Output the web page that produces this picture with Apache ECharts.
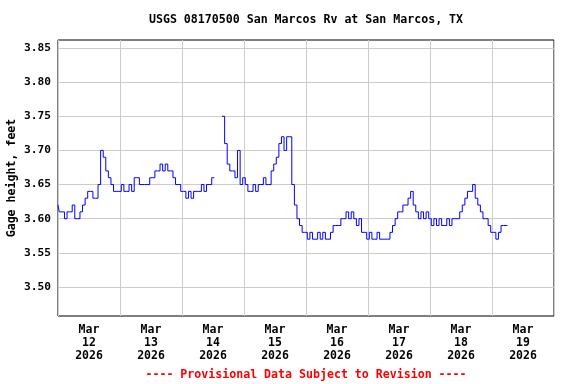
<!DOCTYPE html>
<html>
<head>
<meta charset="utf-8">
<script src="https://cdn.jsdelivr.net/npm/echarts@6/dist/echarts.min.js"></script>
<style>html,body{margin:0;padding:0;background:#fff}#c{width:576px;height:384px}</style>
</head>
<body>
<div id="c"></div>
<script>
// Hourly gage height (feet), starting Mar 12 2026 00:00; null = gap in record
const mar12 = [3.62,3.61,3.61,3.60,3.61,3.61,3.62,3.60,3.60,3.61,3.62,3.63,3.64,3.64,3.63,3.63,3.65,3.70,3.69,3.67,3.66,3.65,3.64,3.64];
const mar13 = [3.64,3.65,3.64,3.64,3.65,3.64,3.66,3.66,3.65,3.65,3.65,3.65,3.66,3.66,3.67,3.67,3.68,3.67,3.68,3.67,3.67,3.66,3.65,3.65];
const mar14 = [3.64,3.64,3.63,3.64,3.63,3.64,3.64,3.64,3.65,3.64,3.65,3.65,3.66,null,null,null,3.75,3.71,3.68,3.67,3.67,3.66,3.70,3.65];
const mar15 = [3.66,3.65,3.64,3.64,3.65,3.64,3.65,3.65,3.66,3.65,3.65,3.67,3.68,3.69,3.71,3.72,3.70,3.72,3.72,3.65,3.62,3.60,3.59,3.58];
const mar16 = [3.58,3.57,3.58,3.57,3.57,3.58,3.57,3.58,3.57,3.57,3.58,3.59,3.59,3.59,3.60,3.60,3.61,3.60,3.61,3.60,3.59,3.60,3.58,3.58];
const mar17 = [3.57,3.58,3.57,3.57,3.58,3.57,3.57,3.57,3.57,3.58,3.59,3.60,3.61,3.61,3.62,3.62,3.63,3.64,3.62,3.61,3.60,3.61,3.60,3.61];
const mar18 = [3.60,3.59,3.60,3.59,3.60,3.59,3.59,3.60,3.59,3.60,3.60,3.60,3.61,3.62,3.63,3.64,3.64,3.65,3.63,3.62,3.61,3.60,3.60,3.59];
const mar19 = [3.58,3.58,3.57,3.58,3.59,3.59,3.59];

const dayLabels = ['12','13','14','15','16','17','18','19'];
const yTicks = [3.50,3.55,3.60,3.65,3.70,3.75,3.80,3.85];
const titleText = 'USGS 08170500 San Marcos Rv at San Marcos, TX';
const yName = 'Gage height, feet';
const footText = '---- Provisional Data Subject to Revision ----';

const all = [].concat(mar12, mar13, mar14, mar15, mar16, mar17, mar18, mar19);
const seriesData = all.map((v, i) => [i, v]);
const labelHours = dayLabels.map((d, i) => 12 + 24 * i);

const FONT = '"DejaVu Sans Mono", "Liberation Mono", monospace';
const chart = echarts.init(document.getElementById('c'), null, {renderer: 'canvas'});
chart.setOption({
  animation: false,
  backgroundColor: '#ffffff',
  grid: {left: 58, top: 40, right: 22, bottom: 68, containLabel: false, outerBoundsMode: 'none',
         show: true, borderColor: '#000', borderWidth: 1, backgroundColor: 'transparent'},
  xAxis: {
    type: 'value', min: 0, max: 192, interval: 24,
    axisLine: {show: false}, axisTick: {show: false},
    splitLine: {show: true, lineStyle: {color: '#cccccc', width: 1}},
    axisLabel: {
      customValues: labelHours, margin: 8,
      fontFamily: FONT, fontWeight: 'bold', fontSize: 11.5, color: '#000', lineHeight: 13,
      formatter: v => 'Mar\n' + dayLabels[Math.round((v - 12) / 24)] + '\n2026'
    }
  },
  yAxis: {
    type: 'value', min: 3.4575, max: 3.8617,
    name: yName, nameLocation: 'middle', nameGap: 40, nameRotate: 90, nameMoveOverlap: false,
    nameTextStyle: {fontFamily: FONT, fontWeight: 'bold', fontSize: 11.6, color: '#000'},
    axisLine: {show: false},
    axisTick: {show: false, customValues: yTicks},
    splitLine: {show: true, lineStyle: {color: '#cccccc', width: 1}},
    axisLabel: {
      customValues: yTicks, margin: 7,
      fontFamily: FONT, fontWeight: 'bold', fontSize: 11.2, color: '#000',
      formatter: v => v.toFixed(2)
    }
  },
  series: [{
    type: 'line', data: seriesData, step: 'middle', showSymbol: false, connectNulls: false,
    lineStyle: {color: '#0000ff', width: 1}, itemStyle: {color: '#0000ff'}, z: 5
  }],
  graphic: [
    {type: 'text', x: 306, y: 20, style: {text: titleText, textAlign: 'center', textVerticalAlign: 'middle', font: 'bold 11.6px ' + FONT, fill: '#000'}},
    {type: 'text', x: 306, y: 375, style: {text: footText, textAlign: 'center', textVerticalAlign: 'middle', font: 'bold 11.6px ' + FONT, fill: '#ff0000'}}
  ]
});
</script>
</body>
</html>
